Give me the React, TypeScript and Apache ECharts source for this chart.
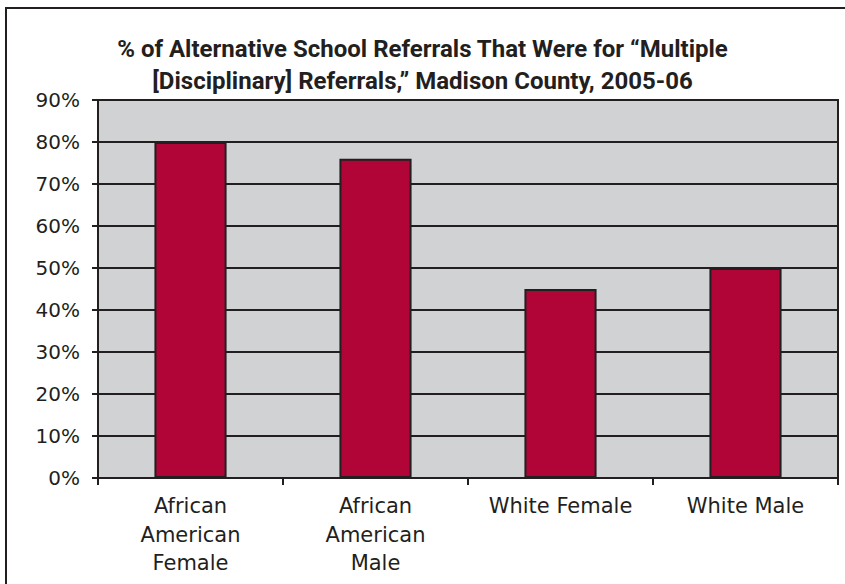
import React, { useEffect, useRef } from "react";
import * as echarts from "echarts";

const categories = [
  "African\nAmerican\nFemale",
  "African\nAmerican\nMale",
  "White Female",
  "White Male",
];
const percentages = [80, 76, 45, 50];
const titleText =
  "% of Alternative School Referrals That Were for \u201cMultiple\n[Disciplinary] Referrals,\u201d Madison County, 2005-06";

const INK = "#231f20";
const BAR = "#b10538";
const PLOT_BG = "#d1d2d4";

export default function App() {
  const ref = useRef<HTMLDivElement>(null);

  useEffect(() => {
    if (!ref.current) return;
    const chart = echarts.init(ref.current, undefined, { renderer: "svg" });
    chart.setOption({
      animation: false,
      backgroundColor: "#ffffff",
      title: {
        text: titleText,
        left: "center",
        top: 28,
        textStyle: {
          fontFamily: "Roboto, sans-serif",
          fontWeight: "bold",
          fontSize: 24,
          lineHeight: 32,
          color: INK,
        },
      },
      graphic: [
        {
          type: "rect",
          shape: { x: 6, y: 8, width: 900, height: 700 },
          style: { fill: "none", stroke: INK, lineWidth: 2 },
          silent: true,
          z: 100,
        },
      ],
      grid: {
        left: 98,
        top: 100,
        right: 7,
        bottom: 106,
        show: true,
        backgroundColor: PLOT_BG,
        borderColor: INK,
        borderWidth: 2,
      },
      xAxis: {
        type: "category",
        data: categories,
        axisLine: { lineStyle: { color: INK, width: 2 } },
        axisTick: { show: true, length: 7, lineStyle: { color: INK, width: 2 } },
        axisLabel: {
          color: INK,
          fontFamily: "'DejaVu Sans', sans-serif",
          fontSize: 21,
          lineHeight: 28.5,
          margin: 14,
          interval: 0,
        },
      },
      yAxis: {
        type: "value",
        min: 0,
        max: 90,
        interval: 10,
        axisLine: { show: true, lineStyle: { color: INK, width: 2 } },
        axisTick: { show: true, length: 6, lineStyle: { color: INK, width: 2 } },
        axisLabel: {
          formatter: "{value}%",
          color: INK,
          fontFamily: "'DejaVu Sans', sans-serif",
          fontSize: 20,
          margin: 18,
        },
        splitLine: { show: true, lineStyle: { color: INK, width: 2 } },
      },
      series: [
        {
          type: "bar",
          data: percentages,
          barWidth: "39%",
          itemStyle: { color: BAR, borderColor: INK, borderWidth: 2 },
        },
      ],
    });
    return () => chart.dispose();
  }, []);

  return (
    <div
      ref={ref}
      style={{ position: "fixed", left: 0, top: 0, width: 845, height: 584 }}
    />
  );
}
